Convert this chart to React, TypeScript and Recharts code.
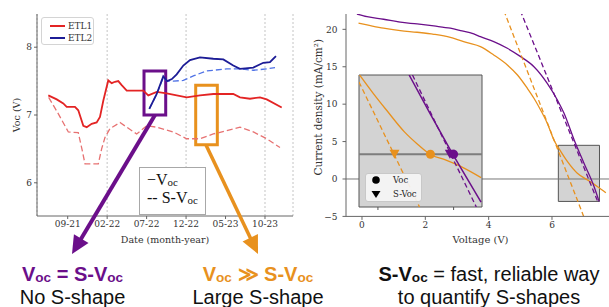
import React from "react";
import {
  ComposedChart,
  Line,
  Scatter,
  XAxis,
  YAxis,
  CartesianGrid,
  ReferenceArea,
  ReferenceLine,
  Legend,
} from "recharts";

// ---- left panel: Voc over time (months counted from 09-21) ----
const dateTicks = [0, 5, 10, 15, 20, 25];
const dateLabels = ["09-21", "02-22", "07-22", "12-22", "05-23", "10-23"];
const vocTicks = [6, 7, 8];

const etl1Voc: [number, number][] = [
  [-2.46, 7.29], [-1.39, 7.23], [-0.56, 7.17], [-0.13, 7.12], [0.92, 7.12], [1.34, 7.07],
  [1.98, 6.84], [2.41, 6.82], [3.04, 6.87], [3.67, 6.89], [4.09, 6.97], [4.51, 7.21],
  [5.14, 7.51], [5.58, 7.47], [5.99, 7.49], [6.41, 7.5], [6.84, 7.44], [7.48, 7.36],
  [9.58, 7.36], [10.21, 7.29], [11.28, 7.34], [12.54, 7.32], [15.08, 7.26], [16.76, 7.29],
  [18.45, 7.31], [20.98, 7.31], [21.83, 7.26], [23.1, 7.24], [24.37, 7.26], [25.22, 7.23],
  [27.12, 7.11],
];
const etl1SVoc: [number, number][] = [
  [-2.41, 7.26], [-1.2, 7.02], [0.08, 6.75], [1.34, 6.74], [1.8, 6.5], [2.19, 6.28],
  [3.88, 6.28], [4.3, 6.5], [4.73, 6.67], [5.36, 6.8], [6.63, 6.89], [7.48, 6.82],
  [8.74, 6.72], [10.01, 6.84], [11.28, 6.82], [13.38, 6.75], [15.08, 6.65], [16.76, 6.65],
  [18.45, 6.72], [20.15, 6.77], [21.83, 6.82], [23.52, 6.75], [25.22, 6.65], [26.9, 6.52],
];
const etl2Voc: [number, number][] = [
  [10.34, 7.09], [11.28, 7.31], [12.11, 7.57], [12.6, 7.5], [13.2, 7.53], [13.81, 7.6],
  [14.65, 7.73], [15.5, 7.81], [16.76, 7.85], [18.45, 7.83], [19.72, 7.82], [20.98, 7.73],
  [21.83, 7.68], [23.52, 7.7], [24.78, 7.77], [25.63, 7.78], [26.39, 7.87],
];
const etl2SVoc: [number, number][] = [
  [10.34, 7.09], [11.28, 7.31], [12.11, 7.55], [12.6, 7.5], [13.38, 7.5], [14.65, 7.51],
  [16.0, 7.58], [17.6, 7.65], [18.45, 7.66], [20.15, 7.68], [21.83, 7.68], [23.52, 7.66],
  [25.22, 7.68], [26.27, 7.7],
];

// ---- right panel: J-V curves ----
const voltTicks = [0, 2, 4, 6];
const currentTicks = [-5, 0, 5, 10, 15, 20];

const jvPurple: [number, number][] = [
  [-0.16, 22.05], [0.16, 21.7], [0.68, 21.35], [1.21, 20.95], [1.74, 20.72], [2.27, 20.45],
  [2.79, 20.15], [3.11, 19.84], [3.53, 19.39], [3.74, 19.02], [4.16, 18.36], [4.59, 17.47],
  [5.01, 16.35], [5.43, 15.01], [5.85, 12.79], [6.17, 10.56], [6.38, 8.78], [6.7, 5.21],
  [7.01, 2.1], [7.33, -1.03], [7.49, -3.03],
];
const jvOrange: [number, number][] = [
  [-0.11, 20.82], [0.16, 20.59], [0.68, 20.15], [1.21, 19.83], [1.74, 19.61], [2.27, 19.34],
  [2.79, 18.94], [3.32, 18.22], [3.74, 17.69], [4.16, 16.58], [4.59, 15.24], [4.91, 13.9],
  [5.22, 12.13], [5.43, 10.79], [5.64, 9.22], [5.85, 7.45], [6.06, 5.21], [6.28, 3.65],
  [6.49, 2.31], [6.8, 0.76], [7.12, -0.13], [7.44, -1.03], [7.7, -1.83],
];
const tangentPurple: [number, number][] = [[5.0, 22.5], [7.47, -3.29]];
const tangentOrange: [number, number][] = [[4.48, 22.5], [7.0, -5.0]];

// zoomed inset around J = 0
const insetTicks = [6.4, 7.2];
const insetOrange: [number, number][] = [
  [6.2, 4.55], [6.35, 3.46], [6.49, 2.51], [6.68, 1.27], [6.81, 0.61], [6.95, 0.0],
  [7.12, -0.34], [7.3, -0.76], [7.49, -1.33],
];
const insetPurple: [number, number][] = [[6.73, 4.5], [6.95, 2.32], [7.19, 0], [7.49, -2.72]];
const insetTangentPurple: [number, number][] = [[6.765, 4.5], [7.44, -3.0]];
const insetTangentOrange: [number, number][] = [[6.2, 4.1], [6.84, -3.0]];
const orangeVoc: [number, number][] = [[6.955, 0]];
const orangeSVoc: [number, number][] = [[6.575, 0]];
const purpleVoc: [number, number][] = [[7.2, 0]];
const purpleSVoc: [number, number][] = [[7.16, 0]];

const RED = "#e32424";
const RED_LIGHT = "#e77272";
const NAVY = "#1c1c96";
const BLUE_LIGHT = "#4f72e6";
const PURPLE = "#6b0f8a";
const ORANGE = "#e8911e";
const AXIS = "#666";
const serif = "'DejaVu Serif', serif";
const sans = "'Liberation Sans', Arial, sans-serif";

const mv = (arr: [number, number][]) => arr.map(([m, v]) => ({ m, v }));
const vj = (arr: [number, number][]) => arr.map(([v, j]) => ({ v, j }));
const minus = (n: number) => (n < 0 ? `\u2212${-n}` : `${n}`);

const tickStyle = { fontSize: 9, fill: "#333", fontFamily: serif };

const SeriesLegend = (props: any) => {
  const items = (props.payload || []).filter((item: any) => item.type !== "none" && item.value !== "v");
  return (
    <div
      style={{
        width: 53,
        height: 28,
        boxSizing: "border-box",
        background: "rgba(255,255,255,0.9)",
        border: "1px solid #d4d4d4",
        borderRadius: 3,
        position: "relative",
        fontFamily: serif,
        fontSize: 9,
        color: "#333",
      }}
    >
      {items.map((item: any, i: number) => (
        <div key={item.value} style={{ position: "absolute", left: 0, top: 3 + i * 11.5, height: 10, width: 51 }}>
          <svg width={24} height={10} style={{ position: "absolute", left: 7, top: 0 }}>
            <line x1={1} y1={5} x2={16} y2={5} stroke={item.color} strokeWidth={2} />
          </svg>
          <span style={{ position: "absolute", left: 26, top: -1, lineHeight: "12px" }}>{item.value}</span>
        </div>
      ))}
    </div>
  );
};

const InsetLegend = () => (
  <div
    style={{
      width: 57,
      height: 29,
      boxSizing: "border-box",
      background: "rgba(245,245,245,0.92)",
      border: "1px solid #c8c8c8",
      borderRadius: 3,
      position: "relative",
      fontFamily: serif,
      fontSize: 8.5,
      color: "#222",
    }}
  >
    <svg width={14} height={28} style={{ position: "absolute", left: 3, top: 0 }}>
      <circle cx={7} cy={6} r={3.8} fill="#000" />
      <polygon points="2.5,17 11.5,17 7,24" fill="#000" />
    </svg>
    <span style={{ position: "absolute", left: 27, top: 0, lineHeight: "12px" }}>Voc</span>
    <span style={{ position: "absolute", left: 27, top: 14, lineHeight: "12px" }}>S-Voc</span>
  </div>
);

const circleShape = (color: string) => (p: any) => <circle cx={p.cx} cy={p.cy} r={4.5} fill={color} />;
const triangleShape = (color: string) => (p: any) => (
  <polygon points={`${p.cx - 5},${p.cy - 4.5} ${p.cx + 5},${p.cy - 4.5} ${p.cx},${p.cy + 4.5}`} fill={color} />
);

function arrow(x1: number, y1: number, x2: number, y2: number, len: number, half: number) {
  const d = Math.hypot(x2 - x1, y2 - y1);
  const ux = (x2 - x1) / d;
  const uy = (y2 - y1) / d;
  const bx = x2 - ux * len;
  const by = y2 - uy * len;
  return {
    line: { x1, y1, x2: bx + ux * 2, y2: by + uy * 2 },
    head: `${x2},${y2} ${bx - uy * half},${by + ux * half} ${bx + uy * half},${by - ux * half}`,
  };
}

const purpleArrow = arrow(155, 115, 72, 254, 18, 8.5);
const orangeArrow = arrow(206, 145, 258, 254, 18, 8.5);

const Sub = ({ children }: { children: React.ReactNode }) => (
  <span style={{ fontSize: "0.68em", position: "relative", top: "0.1em" }}>{children}</span>
);

const lineText = (extra: React.CSSProperties): React.CSSProperties => ({
  position: "absolute",
  fontFamily: sans,
  fontSize: 20,
  lineHeight: "18px",
  textAlign: "center",
  whiteSpace: "nowrap",
  ...extra,
});

export default function App() {
  return (
    <div style={{ position: "absolute", left: 0, top: 0, width: 609, height: 307, background: "#fff", overflow: "hidden" }}>
      {/* left panel */}
      <div style={{ position: "absolute", left: 0, top: 0 }}>
        <ComposedChart width={300} height={250} margin={{ top: 14, right: 7, bottom: 4, left: 7 }}>
          <CartesianGrid horizontal={false} strokeDasharray="2 2" stroke="#c4c4c4" />
          <XAxis
            dataKey="m"
            type="number"
            domain={[-3.89, 28.55]}
            ticks={dateTicks}
            tickFormatter={(m: number) => dateLabels[dateTicks.indexOf(m)]}
            height={30}
            tickSize={3}
            tick={tickStyle}
            stroke={AXIS}
            allowDataOverflow
            label={{ value: "Date (month-year)", position: "insideBottom", offset: 3, fontSize: 9.5, fill: "#333", fontFamily: serif }}
          />
          <YAxis
            type="number"
            domain={[5.51, 8.49]}
            ticks={vocTicks}
            width={30}
            tickSize={3}
            tick={tickStyle}
            stroke={AXIS}
            allowDataOverflow
            label={{ value: "Voc (V)", angle: -90, position: "center", dx: -5, fontSize: 9.5, fill: "#333", fontFamily: serif }}
          />
          <XAxis xAxisId="top" orientation="top" type="number" domain={[0, 1]} height={0} tick={false} tickLine={false} stroke={AXIS} />
          <YAxis yAxisId="right" orientation="right" type="number" domain={[0, 1]} width={0} tick={false} tickLine={false} stroke={AXIS} />
          <Line data={mv(etl1SVoc)} dataKey="v" stroke={RED_LIGHT} strokeWidth={1.3} strokeDasharray="6 3" dot={false} isAnimationActive={false} legendType="none" />
          <Line data={mv(etl2SVoc)} dataKey="v" stroke={BLUE_LIGHT} strokeWidth={1.3} strokeDasharray="6 3" dot={false} isAnimationActive={false} legendType="none" />
          <Line data={mv(etl1Voc)} dataKey="v" name="ETL1" stroke={RED} strokeWidth={1.8} dot={false} isAnimationActive={false} />
          <Line data={mv(etl2Voc)} dataKey="v" name="ETL2" stroke={NAVY} strokeWidth={1.8} dot={false} isAnimationActive={false} />
          <ReferenceArea x1={9.67} x2={12.42} y1={7.0} y2={7.65} fill="none" fillOpacity={0} stroke={PURPLE} strokeWidth={3} />
          <ReferenceArea x1={16.22} x2={18.96} y1={6.56} y2={7.44} fill="none" fillOpacity={0} stroke={ORANGE} strokeWidth={3} />
          <Legend
            content={SeriesLegend}
            layout="vertical"
            align="center"
            verticalAlign="middle"
            wrapperStyle={{ left: 41, top: 17, width: 53, height: 28 }}
          />
        </ComposedChart>
      </div>

      {/* line-style key in left panel */}
      <div
        style={{
          position: "absolute",
          left: 139,
          top: 167,
          width: 67,
          height: 48,
          boxSizing: "border-box",
          background: "#fff",
          border: "1px solid #a8a8a8",
          fontFamily: "'Liberation Serif', serif",
          fontSize: 16,
          color: "#111",
        }}
      >
        <div style={{ position: "absolute", left: 7, top: 3, lineHeight: "18px", whiteSpace: "nowrap" }}>
          {"\u2212V"}
          <Sub>oc</Sub>
        </div>
        <div style={{ position: "absolute", left: 7, top: 21, lineHeight: "18px", whiteSpace: "nowrap" }}>
          {"-- S-V"}
          <Sub>oc</Sub>
        </div>
      </div>

      {/* right panel */}
      <div style={{ position: "absolute", left: 300, top: 0 }}>
        <ComposedChart width={309} height={250} margin={{ top: 14, right: 0, bottom: 3.6, left: 16 }}>
          <XAxis
            dataKey="v"
            type="number"
            domain={[-0.505, 7.8]}
            ticks={voltTicks}
            height={30}
            tickSize={3.5}
            tick={tickStyle}
            stroke={AXIS}
            allowDataOverflow
            label={{ value: "Voltage (V)", position: "insideBottom", offset: 3, dx: 3, fontSize: 10, fill: "#333", fontFamily: serif }}
          />
          <YAxis
            dataKey="j"
            type="number"
            domain={[-5, 22.05]}
            ticks={currentTicks}
            tickFormatter={minus}
            width={30}
            tickSize={3.5}
            tickMargin={5}
            tick={tickStyle}
            stroke={AXIS}
            allowDataOverflow
            label={{ value: "Current density (mA/cm\u00b2)", angle: -90, position: "center", dx: -13, dy: -8, fontSize: 10.5, fill: "#333", fontFamily: serif }}
          />
          <XAxis xAxisId="top" orientation="top" type="number" domain={[0, 1]} height={0} tick={false} tickLine={false} stroke={AXIS} />
          <ReferenceArea x1={6.2} x2={7.5} y1={-3} y2={4.5} fill="#d3d3d3" fillOpacity={1} stroke="#555" strokeWidth={1} />
          <ReferenceLine y={0} stroke="#777" strokeWidth={1} />
          <Line data={vj(jvOrange)} dataKey="j" stroke={ORANGE} strokeWidth={1.3} dot={false} type="monotone" isAnimationActive={false} />
          <Line data={vj(jvPurple)} dataKey="j" stroke={PURPLE} strokeWidth={1.3} dot={false} type="monotone" isAnimationActive={false} />
          <Line data={vj(tangentOrange)} dataKey="j" stroke={ORANGE} strokeWidth={1.3} strokeDasharray="5 3" dot={false} isAnimationActive={false} />
          <Line data={vj(tangentPurple)} dataKey="j" stroke={PURPLE} strokeWidth={1.3} strokeDasharray="5 3" dot={false} isAnimationActive={false} />
        </ComposedChart>
      </div>

      {/* inset zoom of the J = 0 crossing */}
      <div style={{ position: "absolute", left: 358, top: 74 }}>
        <ComposedChart width={125} height={140} margin={{ top: 1, right: 1, bottom: 0, left: 1 }}>
          <XAxis
            dataKey="v"
            type="number"
            domain={[6.2, 7.5]}
            ticks={insetTicks}
            tickFormatter={() => ""}
            height={7}
            tickSize={3}
            axisLine={false}
            stroke="#555"
            allowDataOverflow
          />
          <YAxis dataKey="j" type="number" domain={[-3, 4.5]} hide allowDataOverflow />
          <ReferenceArea x1={6.2} x2={7.5} y1={-3} y2={4.5} fill="#d3d3d3" fillOpacity={1} stroke="#555" strokeWidth={1} />
          <ReferenceLine y={0} stroke="#7d7d7d" strokeWidth={2} />
          <Line data={vj(insetOrange)} dataKey="j" stroke={ORANGE} strokeWidth={1.3} dot={false} type="monotone" isAnimationActive={false} />
          <Line data={vj(insetPurple)} dataKey="j" stroke={PURPLE} strokeWidth={1.5} dot={false} isAnimationActive={false} />
          <Line data={vj(insetTangentOrange)} dataKey="j" stroke={ORANGE} strokeWidth={1.3} strokeDasharray="5 3" dot={false} isAnimationActive={false} />
          <Line data={vj(insetTangentPurple)} dataKey="j" stroke={PURPLE} strokeWidth={1.3} strokeDasharray="5 3" dot={false} isAnimationActive={false} />
          <Scatter data={vj(orangeSVoc)} dataKey="j" shape={triangleShape(ORANGE)} isAnimationActive={false} />
          <Scatter data={vj(orangeVoc)} dataKey="j" shape={circleShape(ORANGE)} isAnimationActive={false} />
          <Scatter data={vj(purpleSVoc)} dataKey="j" shape={triangleShape(PURPLE)} isAnimationActive={false} />
          <Scatter data={vj(purpleVoc)} dataKey="j" shape={circleShape(PURPLE)} isAnimationActive={false} />
          <Legend
            content={InsetLegend}
            layout="vertical"
            align="center"
            verticalAlign="middle"
            wrapperStyle={{ left: 7, top: 99, width: 57, height: 29 }}
          />
        </ComposedChart>
      </div>

      {/* arrows from the boxes */}
      <svg width={609} height={307} style={{ position: "absolute", left: 0, top: 0, pointerEvents: "none" }}>
        <line {...purpleArrow.line} stroke={PURPLE} strokeWidth={4} />
        <polygon points={purpleArrow.head} fill={PURPLE} />
        <line {...orangeArrow.line} stroke={ORANGE} strokeWidth={3.5} />
        <polygon points={orangeArrow.head} fill={ORANGE} />
      </svg>

      {/* captions */}
      <div style={lineText({ left: 0, width: 145, top: 265, color: PURPLE, fontWeight: 700 })}>
        V<Sub>oc</Sub> = S-V<Sub>oc</Sub>
      </div>
      <div style={lineText({ left: 0, width: 145, top: 288, color: "#111" })}>No S-shape</div>
      <div style={lineText({ left: 178, width: 160, top: 265, color: ORANGE, fontWeight: 700 })}>
        V<Sub>oc</Sub> {"\u226b"} S-V<Sub>oc</Sub>
      </div>
      <div style={lineText({ left: 178, width: 160, top: 288, color: "#111" })}>Large S-shape</div>
      <div style={lineText({ left: 369, width: 240, top: 265, color: "#111" })}>
        <b>
          S-V<Sub>oc</Sub>
        </b>{" "}
        = fast, reliable way
      </div>
      <div style={lineText({ left: 369, width: 240, top: 288, color: "#111" })}>to quantify S-shapes</div>
    </div>
  );
}
